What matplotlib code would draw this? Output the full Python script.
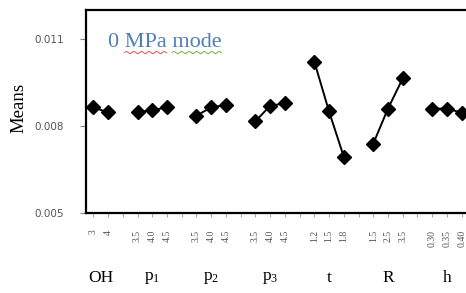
import numpy as np
import matplotlib
matplotlib.use("Agg")
import matplotlib.pyplot as plt
from matplotlib.transforms import blended_transform_factory

plt.rcParams['mathtext.fontset'] = 'custom'
plt.rcParams['mathtext.rm'] = 'Liberation Serif'
plt.rcParams['mathtext.it'] = 'Liberation Serif:italic'

# factors, their levels and the main-effect means
factors = ['OH', r'$\mathrm{p}_1$', r'$\mathrm{p}_2$', r'$\mathrm{p}_3$', 't', 'R', 'h']
levels = [
    ['3', '4'],
    ['3.5', '4.0', '4.5'],
    ['3.5', '4.0', '4.5'],
    ['3.5', '4.0', '4.5'],
    ['1.2', '1.5', '1.8'],
    ['1.5', '2.5', '3.5'],
    ['0.30', '0.35', '0.40'],
]
means = [
    [0.00864, 0.00847],
    [0.00847, 0.00855, 0.00864],
    [0.00836, 0.00864, 0.00873],
    [0.00816, 0.00870, 0.00878],
    [0.01022, 0.00850, 0.00694],
    [0.00739, 0.00860, 0.00964],
    [0.00860, 0.00860, 0.00846],
]

fig = plt.figure(figsize=(4.66, 2.93), dpi=100)
ax = fig.add_axes([86/466, 1-213/293, 383/466, 203/293])

tick_pos = []
tick_lab = []
centers = []
pos = 0
for lv, m in zip(levels, means):
    xs = np.arange(pos, pos + len(lv))
    ax.plot(xs, m, color='black', lw=1.4, marker='D', ms=6.8,
            mfc='black', mec='black')
    tick_pos.extend(xs)
    tick_lab.extend(lv)
    centers.append(xs.mean())
    pos += len(lv) + 1

ax.set_xlim(-0.5, pos - 1.5)
ax.set_ylim(0.005, 0.012)
ax.set_yticks([0.005, 0.008, 0.011])
ax.set_yticklabels(['0.005', '0.008', '0.011'])
ax.set_xticks(np.arange(0, pos - 1))
all_lab = [''] * (pos - 1)
for p, l in zip(tick_pos, tick_lab):
    all_lab[p] = l
ax.set_xticklabels(all_lab, rotation=90, family='Liberation Serif',
                   fontsize=7, color='#555555')
ax.tick_params(axis='x', length=3, color='#aaaaaa', pad=9)
ax.tick_params(axis='y', length=4, color='#888888', pad=12,
               labelsize=7.5, labelcolor='#555555')

for s in ['left', 'bottom', 'top']:
    ax.spines[s].set_linewidth(1.6)
ax.spines['right'].set_visible(False)

trans = blended_transform_factory(ax.transData, ax.transAxes)
for c, f in zip(centers, factors):
    ax.text(c, -0.32, f, transform=trans, ha='center', va='center',
            family='Liberation Serif', fontsize=12.5)

ax.set_ylabel('Means', family='Liberation Serif', fontsize=13.5)
ax.yaxis.set_label_coords(-0.152, 0.52)

# annotation with the spell-check squiggles seen in the source
title = ax.text(0.057, 0.82, '0 MPa mode', transform=ax.transAxes,
                family='Liberation Serif', fontsize=16, color='#4f7fb8',
                va='baseline')
fig.canvas.draw()
r = fig.canvas.get_renderer()
def width_of(s):
    t = ax.text(0, 0, s, family='Liberation Serif', fontsize=16)
    w = t.get_window_extent(r).width
    t.remove()
    return w
bb = title.get_window_extent(r)
x0 = bb.x0
segs = [(width_of('0 '), width_of('0 MPa'), '#e05050'),
        (width_of('0 MPa '), width_of('0 MPa mode'), '#70b040')]
ybase = bb.y0 - 1
for a, b, col in segs:
    xx = np.linspace(x0 + a, x0 + b, 60)
    yy = ybase + 1.0 * np.sin((xx - xx[0]) / 1.2)
    fig.add_artist(plt.Line2D(xx / fig.bbox.width, yy / fig.bbox.height,
                              color=col, lw=0.7))

fig.savefig('out.png', dpi=100)
